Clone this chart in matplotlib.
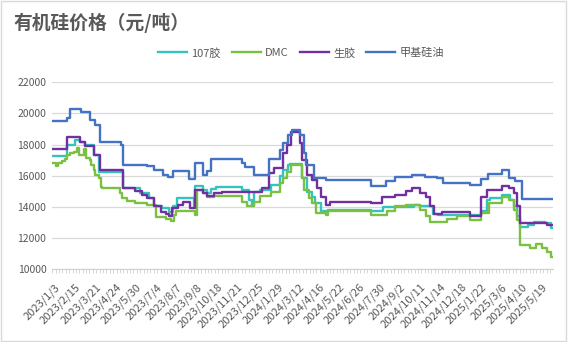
import numpy as np
import matplotlib
matplotlib.use("Agg")
import matplotlib.pyplot as plt
from matplotlib.patches import Rectangle

plt.rcParams['font.family'] = ['Noto Sans CJK SC', 'DejaVu Sans']

# categories: trading days, labelled every 24th day
n_days = 591
label_step = 24
date_labels = ['2023/1/3', '2023/2/15', '2023/3/21', '2023/4/24', '2023/5/30',
               '2023/7/4', '2023/8/7', '2023/9/8', '2023/10/18', '2023/11/21',
               '2023/12/25', '2024/1/29', '2024/3/12', '2024/4/16', '2024/5/22',
               '2024/6/26', '2024/7/30', '2024/9/2', '2024/10/11', '2024/11/14',
               '2024/12/18', '2025/1/22', '2025/3/6', '2025/4/10', '2025/5/19']

# price series as (day index, price) change points
gum107_idx = [0, 18, 27, 33, 39, 49, 55, 84, 104, 114, 120, 130, 138, 143, 147,
              167, 169, 178, 183, 188, 193, 224, 232, 236, 238, 246, 258, 269,
              273, 279, 281, 295, 301, 307, 311, 317, 326, 376, 391, 427, 435,
              450, 456, 506, 514, 517, 531, 541, 545, 549, 552, 562, 569, 582,
              589, 590]
gum107_val = [17300, 17980, 18300, 18150, 17950, 17350, 16270, 15200, 14880,
              14560, 14030, 13920, 13700, 14070, 14560, 14030, 15350, 15100,
              14880, 15140, 15310, 15100, 14450, 14030, 14990, 15100, 15420,
              15990, 16380, 16700, 16740, 15850, 14990, 14670, 14240, 13710,
              13800, 13710, 13970, 14135, 14050, 13560, 13490, 13710, 14460,
              14560, 14780, 14460, 14030, 13390, 12740, 12850, 13060, 13000,
              12640, 12640]

dmc_idx = [0, 4, 7, 11, 15, 18, 21, 26, 29, 32, 37, 40, 45, 46, 49, 51, 55, 58,
           59, 80, 83, 88, 98, 112, 122, 134, 140, 144, 146, 169, 171, 178, 183,
           191, 224, 230, 238, 246, 258, 269, 273, 277, 282, 295, 298, 303, 307,
           312, 323, 326, 376, 395, 405, 418, 435, 442, 446, 466, 478, 494, 506,
           516, 531, 539, 545, 549, 552, 564, 572, 578, 584, 589, 590]
dmc_val = [16800, 16650, 16800, 16950, 17050, 17340, 17490, 17510, 17770, 17340,
           17750, 17130, 17020, 16700, 16380, 16060, 15890, 15310, 15200, 14880,
           14560, 14410, 14240, 14150, 13350, 13210, 13130, 13490, 13710, 13490,
           15100, 14880, 14630, 14710, 14290, 14070, 14350, 14710, 14990, 15530,
           15850, 16270, 16680, 15850, 15100, 14560, 14240, 13600, 13490, 13770,
           13490, 13770, 14030, 14110, 13800, 13390, 13060, 13200, 13390, 13170,
           13600, 14240, 14670, 14450, 13800, 13170, 11570, 11360, 11610, 11360,
           11140, 10780, 10780]

raw_idx = [0, 18, 33, 39, 49, 56, 84, 98, 106, 112, 120, 128, 134, 138, 142, 148,
           155, 163, 169, 178, 183, 191, 201, 222, 238, 248, 256, 262, 273, 277,
           282, 293, 295, 301, 307, 313, 317, 323, 328, 376, 389, 405, 418, 425,
           435, 442, 446, 451, 460, 494, 506, 514, 531, 539, 545, 549, 553, 572,
           585, 590]
raw_val = [17700, 18480, 18200, 17900, 17350, 16400, 15200, 15000, 14780, 14560,
           14030, 13700, 13560, 13390, 13920, 14130, 14290, 13920, 15100, 14880,
           14710, 14880, 14990, 14950, 14990, 15200, 16170, 16490, 17450, 17980,
           18800, 18090, 17020, 16060, 15740, 15200, 14670, 14135, 14350, 14240,
           14630, 14780, 15050, 15200, 14880, 14670, 14030, 13560, 13650, 13450,
           14670, 15100, 15350, 15200, 14880, 14030, 13000, 12950, 12850, 12850]

oil_idx = [0, 18, 21, 34, 45, 51, 57, 81, 84, 112, 120, 131, 137, 143, 162, 169,
           178, 183, 188, 224, 228, 238, 256, 269, 273, 279, 283, 293, 297, 300,
           309, 323, 376, 394, 405, 425, 440, 454, 462, 494, 507, 515, 531, 539,
           547, 555, 590]
oil_val = [19500, 19700, 20300, 20100, 19600, 19250, 18200, 18000, 16700, 16600,
           16400, 16050, 15900, 16300, 15800, 16800, 16050, 16300, 17050, 16800,
           16550, 16050, 17050, 17650, 18100, 18600, 18950, 18600, 17450, 16700,
           15850, 15700, 15350, 15650, 15950, 16050, 15950, 15850, 15550, 15400,
           15800, 16100, 16400, 15850, 15650, 14500, 14500]

series = [
    ('107胶', gum107_idx, gum107_val, '#36C2BE'),
    ('DMC', dmc_idx, dmc_val, '#7AC142'),
    ('生胶', raw_idx, raw_val, '#7030A0'),
    ('甲基硅油', oil_idx, oil_val, '#4472C4'),
]

fig = plt.figure(figsize=(5.68, 3.42), dpi=100)
ax = fig.add_axes([0.0915, 0.2126, 0.882, 0.5468])

for name, idx, val, color in series:
    ax.step(idx, val, where='post', color=color, lw=1.7, label=name)

ax.set_ylim(10000, 22000)
ax.set_yticks(np.arange(10000, 22001, 2000))
ax.set_xlim(-0.3, 591.5)
ax.set_xticks(np.arange(len(date_labels)) * label_step + 3)
ax.set_xticklabels(date_labels, rotation=45, ha='right', rotation_mode='anchor')
ax.set_xticks(np.arange(0, n_days, 4), minor=True)

ax.grid(axis='y', color='#D9D9D9', lw=0.9)
ax.set_axisbelow(True)
for side in ['top', 'right', 'left']:
    ax.spines[side].set_visible(False)
ax.spines['bottom'].set_color('#D0D0D0')
ax.tick_params(axis='y', length=0, labelsize=7.5, labelcolor='#595959', pad=4)
ax.tick_params(axis='x', which='major', length=0, labelsize=8,
               labelcolor='#595959', pad=9)
ax.tick_params(axis='x', which='minor', length=3, color='#D0D0D0')

fig.text(0.023, 0.933, '有机硅价格（元/吨）', fontsize=13.5, fontweight='bold',
         color='#595959', va='center')
fig.legend(loc='center', bbox_to_anchor=(0.53, 0.845), ncol=4, frameon=False,
           fontsize=8, handlelength=2.6, columnspacing=1.0, handletextpad=0.4,
           labelcolor='#595959')

fig.patches.append(Rectangle((0.002, 0.003), 0.995, 0.994, transform=fig.transFigure,
                             fill=False, edgecolor='#D9D9D9', lw=1))

fig.savefig('out.png', dpi=100)
